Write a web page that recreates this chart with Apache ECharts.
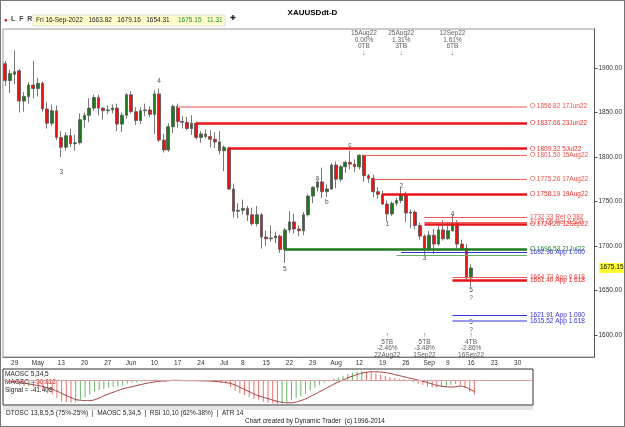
<!DOCTYPE html>
<html>
<head>
<meta charset="UTF-8">
<script src="https://cdn.jsdelivr.net/npm/echarts@6/dist/echarts.min.js"></script>
<style>
  html, body { margin: 0; padding: 0; background: #fff; }
  #chart { width: 625px; height: 427px; }
</style>
</head>
<body>
<div id="chart"></div>
<script>
// daily candles Apr 27 .. Sep 16 2022 : [open, close, low, high]
var candles = [
  [1905,1886,1880,1908],[1886,1894,1872,1898],[1893,1896,1882,1920],
  [1897,1863,1850,1899],[1863,1868,1851,1873],[1868,1881,1860,1884],[1881,1877,1866,1908],[1877,1883,1868,1889],
  [1883,1854,1851,1885],[1854,1838,1832,1862],[1838,1852,1835,1859],[1852,1822,1819,1858],[1822,1811,1800,1829],
  [1811,1824,1807,1828],[1824,1815,1811,1832],[1815,1816,1807,1825],[1816,1842,1814,1849],[1842,1847,1833,1850],
  [1847,1855,1839,1866],[1855,1867,1852,1870],[1867,1855,1847,1870],[1855,1852,1842,1856],[1852,1853,1848,1858],
  [1853,1855,1849,1859],[1855,1837,1829,1860],
  [1837,1847,1828,1850],[1847,1870,1843,1872],[1870,1851,1849,1874],
  [1851,1841,1836,1856],[1841,1852,1837,1856],[1852,1853,1846,1860],[1853,1848,1845,1857],[1848,1871,1826,1875],
  [1871,1819,1817,1877],[1819,1808,1805,1826],[1808,1834,1806,1838],[1834,1857,1827,1859],[1857,1840,1833,1860],
  [1840,1839,1832,1846],[1839,1832,1830,1845],[1832,1838,1825,1847],[1838,1822,1820,1840],[1822,1826,1816,1829],
  [1826,1823,1821,1831],[1823,1820,1811,1830],[1820,1817,1810,1828],[1817,1807,1803,1829],
  [1807,1811,1784,1813],
  [1810,1764,1763,1812],[1764,1739,1732,1770],[1739,1740,1731,1748],[1740,1742,1735,1752],
  [1742,1735,1728,1745],[1735,1725,1723,1743],[1725,1735,1722,1745],[1735,1710,1697,1737],[1710,1708,1700,1717],
  [1708,1709,1705,1723],[1709,1711,1703,1716],[1711,1696,1692,1713],[1696,1718,1681,1720],[1718,1727,1715,1739],
  [1727,1719,1714,1736],[1719,1717,1711,1723],[1717,1735,1712,1738],[1735,1756,1733,1758],[1756,1766,1748,1767],
  [1766,1772,1761,1774],[1772,1761,1754,1788],[1761,1764,1755,1769],[1764,1791,1763,1793],[1791,1775,1765,1795],
  [1775,1789,1772,1791],[1789,1794,1782,1796],[1794,1792,1786,1807],[1792,1789,1783,1797],[1789,1802,1786,1803],
  [1802,1779,1772,1802],[1779,1776,1771,1781],[1776,1761,1755,1780],[1761,1758,1753,1766],[1758,1747,1746,1762],
  [1747,1736,1728,1751],[1736,1748,1734,1750],[1748,1751,1745,1754],[1751,1758,1748,1765],[1758,1737,1727,1761],
  [1737,1738,1720,1741],[1738,1723,1719,1740],[1723,1711,1707,1726],
  [1711,1697,1688,1713],[1697,1712,1694,1717],
  [1712,1702,1691,1719],[1702,1718,1700,1723],[1718,1708,1706,1729],[1708,1717,1707,1727],
  [1717,1725,1716,1735],[1725,1702,1697,1729],[1702,1697,1696,1707],[1697,1664,1660,1702],[1663.82,1675.15,1654.31,1679.16]
];

var maosc = [
  -5,-8,-10,
  -18,-22,-22,-24,-25,-35,-48,-52,-65,-78,-80,-82,-80,-70,-62,-52,-40,-36,-32,-28,-24,-24,
  -20,-12,-10,-8,-5,-3,-2,2,-2,-6,-4,0,-1,-2,-3,-1,-4,-3,-4,-6,-8,-10,
  -12,-25,-38,-48,-55,-62,-68,-70,-78,-82,-84,-86,-85,-80,-72,-65,-58,-50,-38,-28,
  -18,-10,-4,6,10,16,22,27,30,33,31,28,24,20,16,10,7,4,2,-3,-8,-13,-18,
  -24,-26,-28,-24,-22,-18,-14,-20,-28,-42,-50.812
];

var signal = [
  -2,-3,-5,-8,-11,-14,-17,-20,-23,-28,
  -33,-40,-48,-56,-63,-70,-73,-74,-74,-71,
  -65,-57,-50,-44,-38,-32,-28,-24,-20,-16,
  -12,-9,-6,-4,-3,-2,-1,-1,-2,-2,
  -2,-2,-3,-3,-4,-5,-7,-9,-12,-18,
  -26,-34,-42,-50,-57,-62,-67,-72,-77,-80,
  -82,-82,-79,-74,-68,-60,-51,-42,-33,-24,
  -15,-7,0,8,14,20,25,28,30,30,
  29,27,24,20,16,12,8,4,0,-4,
  -9,-14,-19,-22,-24,-25,-24,-22,-25,-33,
  -41.408
];

var priceTicks = [1600, 1650, 1700, 1750, 1800, 1850, 1900];
var months = ['Jan','Feb','Mar','Apr','May','Jun','Jul','Aug','Sep','Oct','Nov','Dec'];
var holidays = ['2022-07-04', '2022-09-05'];

// [price, start date, label, kind]
var levels = [
  [1856.82, '2022-06-17', 'O 1856.82 17Jun22', 'pale'],
  [1837.66, '2022-06-23', 'O 1837.66 23Jun22', 'major'],
  [1809.32, '2022-07-05', 'O 1809.32 5Jul22', 'major'],
  [1801.50, '2022-08-15', 'O 1801.50 15Aug22', 'minor'],
  [1775.26, '2022-08-17', 'O 1775.26 17Aug22', 'minor'],
  [1758.19, '2022-08-19', 'O 1758.19 19Aug22', 'major'],
  [1732.33, '2022-09-01', '1732.33 Ret 0.382', 'minor'],
  [1727.05, '2022-09-01', '1727.05 Ret 0.500', 'minor'],
  [1724.20, '2022-09-01', 'O 1724.20 12Sep22', 'major'],
  [1696.53, '2022-07-21', 'O 1696.53 21Jul22', 'support'],
  [1692.96, '2022-08-25', '1692.96 App 1.000', 'app'],
  [1689.40, '2022-08-24', '', 'supportThin'],
  [1664.73, '2022-09-12', '1664.73 App 0.618', 'minor'],
  [1661.40, '2022-09-12', '1661.40 App 1.618', 'major'],
  [1621.91, '2022-09-12', '1621.91 App 1.000', 'app'],
  [1615.52, '2022-09-12', '1615.52 App 1.618', 'appPale']
];

// wave labels: [date, price, text]
var waveLabels = [
  ['2022-05-13', 1783, '3'], ['2022-06-13', 1885, '4'], ['2022-07-21', 1674, '5'],
  ['2022-08-01', 1776, 'a'], ['2022-08-03', 1749, 'b'], ['2022-08-10', 1813, 'c'],
  ['2022-08-22', 1724, '1'], ['2022-08-25', 1767, '2'], ['2022-09-01', 1686, '3'],
  ['2022-09-12', 1736, '4'], ['2022-09-16', 1650, '5'], ['2022-09-16', 1641, '?'],
  ['2022-09-16', 1614, '5'], ['2022-09-16', 1605, '?']
];

var timeTop = [
  ['2022-08-15', 1928, '15Aug22\n0.00%\n0TB\n↓'],
  ['2022-08-25', 1928, '25Aug22\n1.31%\n3TB\n↓'],
  ['2022-09-12', 1928, '12Sep22\n1.61%\n6TB\n↓']
];
var timeBottom = [
  ['2022-08-22', 1588, '↑\n5TB\n-2.46%\n22Aug22'],
  ['2022-09-01', 1588, '↑\n5TB\n-3.48%\n1Sep22'],
  ['2022-09-16', 1588, '↑\n4TB\n-2.86%\n16Sep22']
];

var styles = {
  major: { color: '#e8141b', width: 2.5, text: '#f03030' },
  minor: { color: '#f05a5a', width: 1, text: '#f05050' },
  pale: { color: '#f7a8a8', width: 2, text: '#f05050' },
  support: { color: '#1f7a1f', width: 2.5, text: '#2e8b2e' },
  supportThin: { color: '#6aa86a', width: 1, text: '#2e8b2e' },
  app: { color: '#3333dd', width: 1.2, text: '#3333dd' },
  appPale: { color: '#9999ee', width: 2, text: '#3333dd' }
};

var dates = [];
var d = new Date(Date.UTC(2022, 3, 27));
while (dates.length < 127) {
  var iso = d.toISOString().slice(0, 10);
  var dow = d.getUTCDay();
  if (dow > 0 && dow < 6 && holidays.indexOf(iso) < 0) dates.push(iso);
  d.setUTCDate(d.getUTCDate() + 1);
}
var lowerDates = dates.slice(0, 113);
var lineEnd = dates[112];

function isLabelDay(v) {
  return new Date(v).getUTCDay() === 5 && v <= '2022-09-30';
}
function dayLabel(v) {
  if (!isLabelDay(v)) return '';
  var dt = new Date(v);
  return dt.getUTCDate() <= 7 ? months[dt.getUTCMonth()] : String(dt.getUTCDate());
}

var FONT = 'Liberation Sans';

var markData = levels.map(function (l) {
  var s = styles[l[3]];
  return [
    { coord: [l[1], l[0]], lineStyle: { color: s.color, width: s.width, type: 'solid' },
      label: { show: l[2] !== '', formatter: l[2], position: 'end', distance: 3, color: s.text, fontSize: 6.5, fontFamily: FONT } },
    { coord: [lineEnd, l[0]] }
  ];
});

function textScatter(list, color) {
  return {
    type: 'scatter', xAxisIndex: 0, yAxisIndex: 0, symbolSize: 0, silent: true,
    data: list.map(function (p) { return { value: [p[0], p[1]], label: { formatter: p[2] } }; }),
    label: { show: true, position: 'inside', color: color, fontSize: 6.5, fontFamily: FONT, lineHeight: 6.5 }
  };
}

var chart = echarts.init(document.getElementById('chart'));
chart.setOption({
  animation: false,
  backgroundColor: '#fff',
  textStyle: { fontFamily: FONT },
  title: { text: 'XAUUSDdt-D', left: 'center', top: 4, textStyle: { fontSize: 8, fontWeight: 'bold', color: '#000', fontFamily: FONT } },
  grid: [
    { left: 3, right: 26, top: 29, bottom: 70, show: true, borderColor: '#999', borderWidth: 1 },
    { left: 3, width: 530, top: 369, height: 36, show: true, borderColor: '#333', borderWidth: 1 }
  ],
  xAxis: [
    { type: 'category', data: dates, gridIndex: 0, boundaryGap: true,
      axisLine: { lineStyle: { color: '#777' } },
      axisTick: { interval: function (i, v) { return isLabelDay(v); }, lineStyle: { color: '#555' }, length: 3 },
      axisLabel: { interval: function (i, v) { return isLabelDay(v); }, formatter: dayLabel, fontSize: 6.5, color: '#333', margin: 3, fontFamily: FONT },
      splitLine: { show: false } },
    { type: 'category', data: lowerDates, gridIndex: 1, boundaryGap: true,
      axisLine: { show: false }, axisTick: { show: false }, axisLabel: { show: false } }
  ],
  yAxis: [
    { type: 'value', gridIndex: 0, position: 'right', min: 1575, max: 1944, scale: true,
      axisLine: { show: true, lineStyle: { color: '#555' } },
      axisTick: { show: true, customValues: priceTicks, length: 3 },
      axisLabel: { customValues: priceTicks, formatter: function (v) { return v.toFixed(2); }, fontSize: 6.5, color: '#333', margin: 4, fontFamily: FONT },
      splitLine: { show: false } },
    { type: 'value', gridIndex: 1, min: -90, max: 40, show: false, splitLine: { show: false } }
  ],
  series: [
    { type: 'candlestick', xAxisIndex: 0, yAxisIndex: 0, data: candles, barWidth: 3.2,
      itemStyle: { color: '#1b7a1b', color0: '#ee1111', borderColor: '#555', borderColor0: '#555', borderWidth: 0.8 },
      markLine: { symbol: ['none', 'none'], silent: true, animation: false, data: markData } },
    textScatter(waveLabels, '#222'),
    textScatter(timeTop, '#333'),
    textScatter(timeBottom, '#333'),
    { type: 'bar', xAxisIndex: 1, yAxisIndex: 1, barWidth: 1, data: maosc.map(function (v, i) {
        var up = i === 0 ? v >= 0 : v >= maosc[i - 1];
        return { value: v, itemStyle: { color: up ? '#6db56d' : '#f07070' } };
      }),
      markLine: { symbol: ['none', 'none'], silent: true, label: { show: false },
        lineStyle: { color: '#d9a0a0', width: 1, type: 'solid' }, data: [{ yAxis: 0 }] } },
    { type: 'line', xAxisIndex: 1, yAxisIndex: 1, data: signal, symbol: 'none', smooth: true,
      lineStyle: { color: '#9b3a3a', width: 1 } }
  ]
});

// price tag and panel texts
var tagY = chart.convertToPixel({ yAxisIndex: 0 }, 1675.15);
chart.setOption({
  graphic: [
    { type: 'rect', shape: { x: 0, y: 0, width: 625, height: 427 }, style: { fill: 'none', stroke: '#777', lineWidth: 2 }, silent: true },
    { type: 'text', left: 4, top: 17, style: { text: '●', fill: '#dd0000', fontSize: 6 } },
    { type: 'text', left: 11, top: 16, style: { text: 'L  F  R', fill: '#444', fontSize: 7, fontWeight: 'bold', fontFamily: FONT } },
    { type: 'rect', shape: { x: 33, y: 15, width: 192, height: 11 }, style: { fill: '#ffffcc', stroke: '#ddd' } },
    { type: 'text', left: 36, top: 17, style: { text: 'Fri 16-Sep-2022   1663.82   1679.16   1654.31', fill: '#222', fontSize: 6.5, fontFamily: FONT } },
    { type: 'text', left: 178, top: 17, style: { text: '1675.15   11.31', fill: '#2e8b2e', fontSize: 6.5, fontFamily: FONT } },
    { type: 'text', left: 230, top: 15, style: { text: '✚', fill: '#222', fontSize: 7 } },
    { type: 'rect', shape: { x: 599, y: tagY - 5, width: 24, height: 10 }, style: { fill: '#ffff33' } },
    { type: 'text', left: 600, top: tagY - 4, style: { text: '1675.15', fill: '#000', fontSize: 6.5, fontFamily: FONT } },
    { type: 'text', left: 5, top: 371, style: { text: 'MAOSC 5,34,5', fill: '#222', fontSize: 6.5, fontFamily: FONT } },
    { type: 'text', left: 5, top: 379, style: { text: 'MAOSC =', fill: '#222', fontSize: 6.5, fontFamily: FONT } },
    { type: 'text', left: 34, top: 379, style: { text: '-50.812', fill: '#e02020', fontSize: 6.5, fontFamily: FONT } },
    { type: 'text', left: 5, top: 387, style: { text: 'Signal = -41.408', fill: '#222', fontSize: 6.5, fontFamily: FONT } },
    { type: 'rect', shape: { x: 3, y: 406, width: 530, height: 4 }, style: { fill: '#e4e4e4' } },
    { type: 'text', left: 6, top: 410, style: { text: 'DTOSC 13,8,5,5 (75%-25%)  |  MAOSC 5,34,5  |  RSI 10,10 (62%-38%)  |  ATR 14', fill: '#222', fontSize: 6.5, fontFamily: FONT } },
    { type: 'text', left: 245, top: 418, style: { text: 'Chart created by Dynamic Trader  (c) 1996-2014', fill: '#222', fontSize: 6.5, fontFamily: FONT } }
  ]
});
</script>
</body>
</html>
